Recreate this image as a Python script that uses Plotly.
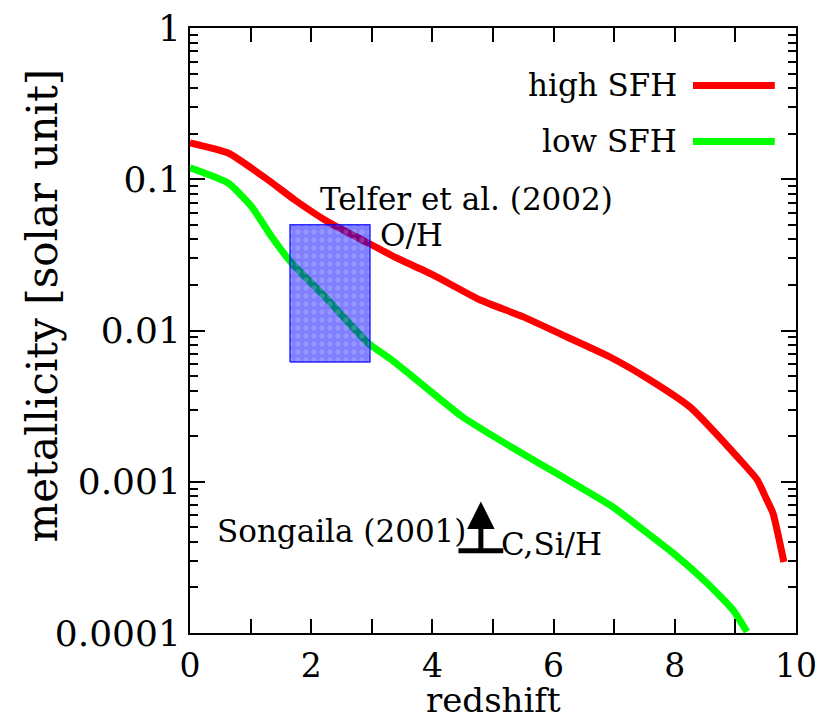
import numpy as np
import plotly.graph_objects as go

# ---- data ----
z_high = [0.0, 0.63, 1.29, 1.73, 2.28, 2.94, 3.38, 4.01, 4.79, 5.50, 6.22, 6.93, 7.59, 8.25, 9.08, 9.36, 9.52, 9.62, 9.80]
met_high = [0.174, 0.149, 0.0989, 0.0729, 0.0522, 0.0379, 0.0306, 0.0233, 0.0159, 0.0123, 0.00906, 0.00668, 0.00471, 0.00312, 0.00139, 0.00103, 0.000757, 0.00062, 0.000295]

z_low = [0.0, 0.63, 1.02, 1.35, 1.68, 2.23, 2.94, 3.33, 3.68, 4.50, 5.33, 6.16, 6.98, 7.48, 7.97, 8.53, 8.96, 9.19]
met_low = [0.119, 0.0944, 0.0656, 0.0415, 0.0279, 0.0167, 0.00826, 0.00638, 0.00493, 0.00268, 0.00167, 0.00107, 0.000681, 0.000480, 0.000338, 0.000214, 0.000142, 0.000102]

telfer_z = [1.65, 2.97]
telfer_met = [0.0062, 0.05]

songaila_z = [4.8]
songaila_met = [0.00035]
songaila_tip = [0.00074]

series_names = ["high SFH", "low SFH"]
series_colors = ["#ff0000", "#00ff00"]

x_tickvals = list(range(0, 11))
x_ticktext = [str(v) if v % 2 == 0 else "" for v in x_tickvals]
y_tickvals = [1e-4, 1e-3, 1e-2, 1e-1, 1]
y_ticktext = ["0.0001", "0.001", "0.01", "0.1", "1"]

FONT = "DejaVu Serif"

fig = go.Figure()
for zz, mm, name, col in zip([z_high, z_low], [met_high, met_low], series_names, series_colors):
    fig.add_trace(go.Scatter(x=zz, y=mm, mode="lines", name=name,
                             line=dict(color=col, width=7, shape="spline", smoothing=0.5),
                             showlegend=False))

# Telfer box (drawn above the curves, semi-transparent, dotted pattern)
bx = [telfer_z[0], telfer_z[1], telfer_z[1], telfer_z[0], telfer_z[0]]
by = [telfer_met[0], telfer_met[0], telfer_met[1], telfer_met[1], telfer_met[0]]
fig.add_trace(go.Scatter(x=bx, y=by, mode="lines", fill="toself",
                         fillcolor="rgba(0,0,255,0.5)",
                         fillpattern=dict(shape=".", bgcolor="rgba(0,0,255,0.5)",
                                          fgcolor="rgba(255,255,255,0.35)", size=8, solidity=0.35),
                         line=dict(color="rgba(0,0,255,0.8)", width=1.5),
                         showlegend=False, hoverinfo="skip"))

# Songaila lower limit: bar
fig.add_trace(go.Scatter(x=songaila_z, y=songaila_met, mode="markers",
                         marker=dict(symbol="line-ew-open", size=32, color="black",
                                     line=dict(color="black", width=5)),
                         showlegend=False))

fig.add_annotation(x=songaila_z[0], y=np.log10(songaila_tip[0]),
                   ax=songaila_z[0], ay=np.log10(songaila_met[0]),
                   xref="x", yref="y", axref="x", ayref="y",
                   showarrow=True, arrowhead=2, arrowsize=1.1, arrowwidth=5,
                   arrowcolor="black", text="")

tfont = dict(family=FONT, size=31, color="black")
fig.add_annotation(x=4.58, y=np.log10(0.00047), text="Songaila (2001)", showarrow=False,
                   xanchor="right", yanchor="middle", font=tfont)
fig.add_annotation(x=5.1, y=np.log10(0.00039), text="C,Si/H", showarrow=False,
                   xanchor="left", yanchor="middle", font=tfont)
fig.add_annotation(x=4.57, y=-1.13, text="Telfer et al. (2002)", showarrow=False,
                   xanchor="center", yanchor="middle", font=tfont)
fig.add_annotation(x=3.10, y=-1.37, text="O/H", showarrow=False,
                   xanchor="left", yanchor="middle", font=tfont)

# manual legend (text left of the line sample)
for i, (name, col) in enumerate(zip(series_names, series_colors)):
    yy = 0.905 - i * 0.0925
    fig.add_shape(type="line", xref="paper", yref="paper", x0=0.83, x1=0.965, y0=yy, y1=yy,
                  line=dict(color=col, width=7))
    fig.add_annotation(xref="paper", yref="paper", x=0.807, y=yy, text=name, showarrow=False,
                       xanchor="right", yanchor="middle", font=tfont)

# axis titles
fig.add_annotation(xref="paper", yref="paper", x=0.5, y=0, yshift=-67, text="redshift",
                   showarrow=False, xanchor="center", yanchor="middle",
                   font=dict(family=FONT, size=34, color="black"))
fig.add_annotation(xref="paper", yref="paper", x=0, y=0.5, xshift=-148, yshift=25,
                   text="metallicity [solar unit]", textangle=-90,
                   showarrow=False, xanchor="center", yanchor="middle",
                   font=dict(family=FONT, size=42, color="black"))

axis_common = dict(showline=True, linecolor="black", linewidth=2, mirror="allticks",
                   ticks="inside", tickcolor="black", tickwidth=2, showgrid=False, zeroline=False)

fig.update_xaxes(range=[0, 10], tickvals=x_tickvals, ticktext=x_ticktext, ticklen=14,
                 tickfont=dict(family=FONT, size=33, color="black"), ticklabelstandoff=2,
                 **axis_common)

minor_vals = [m * 10.0 ** e for e in range(-4, 0) for m in range(2, 10)]
fig.update_yaxes(type="log", range=[-4, 0], tickvals=y_tickvals, ticktext=y_ticktext, ticklen=15,
                 tickfont=dict(family=FONT, size=36, color="black"),
                 minor=dict(tickvals=minor_vals, ticks="inside", ticklen=8, tickcolor="black", tickwidth=2, showgrid=False),
                 **axis_common)

fig.update_layout(width=831, height=722, margin=dict(l=190, r=35, t=28, b=89, autoexpand=False),
                  plot_bgcolor="white", paper_bgcolor="white", showlegend=False)

fig.write_html("out.html")
